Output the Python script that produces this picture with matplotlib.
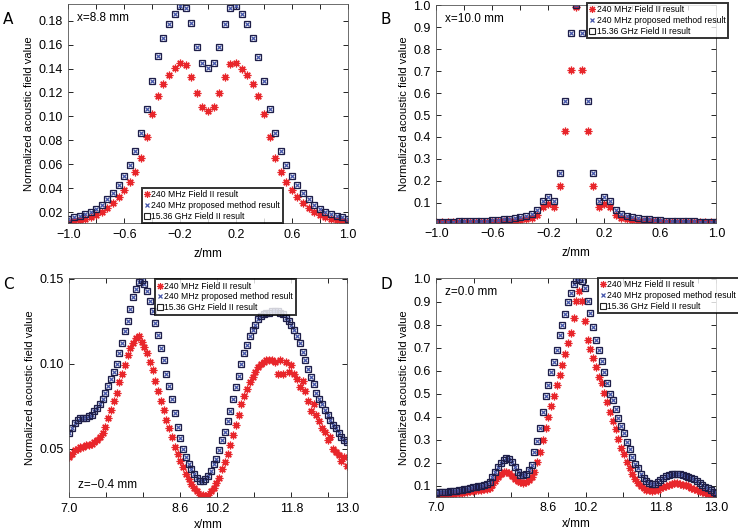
#!/usr/bin/env python3
"""
Field comparison figure: 240 MHz Field II vs proposed method vs 15.36 GHz Field II.
"""

import numpy as np
import matplotlib
matplotlib.use('Agg')
import matplotlib.pyplot as plt
from matplotlib.lines import Line2D

plt.rcParams['font.family'] = ['Liberation Sans', 'DejaVu Sans']

# ---- panel A: x = 8.8 mm, along z ----
z_a = np.linspace(-1.0, 1.0, 51)
field240_a = [0.0115, 0.0122, 0.0132, 0.0142, 0.0158, 0.0177, 0.0203, 0.0235, 0.0275, 0.0325,
              0.0384, 0.0448, 0.0535, 0.0650, 0.0828, 0.1022, 0.1173, 0.1268, 0.1343, 0.1407,
              0.1449, 0.1432, 0.1327, 0.1198, 0.1076, 0.1047,
              0.1076, 0.1198, 0.1327, 0.1435, 0.1444, 0.1400, 0.1343, 0.1268, 0.1173, 0.1022,
              0.0828, 0.0650, 0.0535, 0.0448, 0.0384, 0.0325, 0.0275, 0.0235, 0.0203, 0.0177,
              0.0158, 0.0142, 0.0132, 0.0122, 0.0115]
field1536_a = [0.0145, 0.0155, 0.0167, 0.0180, 0.0197, 0.0225, 0.0261, 0.0306, 0.0361, 0.0423,
               0.0500, 0.0593, 0.0713, 0.0863, 0.1064, 0.1300, 0.1507, 0.1655, 0.1775, 0.1860,
               0.1920, 0.1906, 0.1780, 0.1580, 0.1444, 0.1404,
               0.1444, 0.1580, 0.1775, 0.1906, 0.1920, 0.1860, 0.1770, 0.1655, 0.1500, 0.1300,
               0.1060, 0.0860, 0.0713, 0.0593, 0.0500, 0.0423, 0.0361, 0.0306, 0.0261, 0.0225,
               0.0197, 0.0180, 0.0167, 0.0155, 0.0145]
proposed_a = field1536_a

# ---- panel B: x = 10.0 mm, along z ----
z_b = np.linspace(-1.0, 1.0, 51)
field240_b = [0.010, 0.010, 0.010, 0.011, 0.011, 0.011, 0.012, 0.012, 0.013, 0.013,
              0.014, 0.015, 0.016, 0.017, 0.019, 0.021, 0.024, 0.030, 0.045, 0.080,
              0.094, 0.080, 0.176, 0.428, 0.707, 0.995,
              0.707, 0.428, 0.176, 0.080, 0.094, 0.080, 0.045, 0.030, 0.024, 0.021,
              0.019, 0.017, 0.016, 0.015, 0.014, 0.013, 0.013, 0.012, 0.012, 0.011,
              0.011, 0.011, 0.010, 0.010, 0.010]
field1536_b = [0.013, 0.013, 0.014, 0.014, 0.015, 0.015, 0.016, 0.017, 0.018, 0.019,
               0.021, 0.023, 0.025, 0.028, 0.031, 0.035, 0.040, 0.048, 0.065, 0.109,
               0.128, 0.109, 0.236, 0.564, 0.875, 1.000,
               0.875, 0.564, 0.236, 0.109, 0.128, 0.109, 0.065, 0.048, 0.040, 0.035,
               0.031, 0.028, 0.025, 0.023, 0.021, 0.019, 0.018, 0.017, 0.016, 0.015,
               0.015, 0.014, 0.014, 0.013, 0.013]
proposed_b = field1536_b

# ---- panel C: z = -0.4 mm, along x ----
x_c = np.linspace(7.0, 13.0, 101)
field240_c = [0.045, 0.047, 0.049, 0.050, 0.051, 0.051, 0.052, 0.052, 0.053, 0.054,
              0.055, 0.057, 0.059, 0.063, 0.068, 0.073, 0.078, 0.083, 0.089, 0.094,
              0.099, 0.105, 0.109, 0.112, 0.115, 0.116, 0.113, 0.110, 0.106, 0.101,
              0.096, 0.090, 0.084, 0.078, 0.073, 0.067, 0.062, 0.057, 0.051, 0.047,
              0.043, 0.039, 0.035, 0.032, 0.029, 0.027, 0.025, 0.023, 0.023, 0.022,
              0.023, 0.025, 0.027, 0.030, 0.033, 0.038, 0.042, 0.047, 0.052, 0.058,
              0.064, 0.070, 0.076, 0.081, 0.085, 0.089, 0.092, 0.095, 0.098, 0.100,
              0.101, 0.102, 0.102, 0.102, 0.101, 0.094, 0.102, 0.094, 0.101, 0.095,
              0.099, 0.094, 0.091, 0.086, 0.090, 0.084, 0.078, 0.072, 0.076, 0.070,
              0.066, 0.062, 0.060, 0.055, 0.057, 0.050, 0.048, 0.046, 0.043, 0.045,
              0.040]
field1536_c = [0.059, 0.062, 0.065, 0.067, 0.068, 0.068, 0.068, 0.069, 0.070, 0.072,
               0.074, 0.076, 0.079, 0.083, 0.087, 0.091, 0.095, 0.100, 0.106, 0.112,
               0.119, 0.125, 0.132, 0.139, 0.144, 0.148, 0.149, 0.147, 0.143, 0.137,
               0.131, 0.124, 0.117, 0.109, 0.102, 0.094, 0.087, 0.079, 0.071, 0.063,
               0.056, 0.050, 0.045, 0.041, 0.038, 0.035, 0.033, 0.031, 0.031, 0.032,
               0.034, 0.037, 0.041, 0.044, 0.049, 0.055, 0.060, 0.066, 0.072, 0.079,
               0.086, 0.093, 0.100, 0.106, 0.111, 0.116, 0.120, 0.123, 0.126, 0.128,
               0.129, 0.130, 0.130, 0.131, 0.131, 0.131, 0.130, 0.129, 0.127, 0.125,
               0.123, 0.120, 0.116, 0.112, 0.107, 0.102, 0.097, 0.092, 0.088, 0.083,
               0.079, 0.076, 0.073, 0.070, 0.067, 0.064, 0.062, 0.059, 0.057, 0.055,
               0.054]
proposed_c = field1536_c

# ---- panel D: z = 0.0 mm, along x ----
x_d = np.linspace(7.0, 13.0, 101)
field240_d = [0.059, 0.060, 0.061, 0.062, 0.063, 0.064, 0.065, 0.067, 0.068, 0.070,
              0.072, 0.073, 0.075, 0.077, 0.079, 0.081, 0.083, 0.085, 0.087, 0.092,
              0.105, 0.119, 0.136, 0.150, 0.158, 0.161, 0.155, 0.142, 0.130, 0.121,
              0.115, 0.110, 0.115, 0.124, 0.138, 0.158, 0.205, 0.245, 0.300, 0.350,
              0.400, 0.445, 0.490, 0.540, 0.580, 0.625, 0.675, 0.720, 0.765, 0.830,
              0.904, 0.948, 0.904, 0.815, 0.735, 0.695, 0.655, 0.615, 0.575, 0.545,
              0.505, 0.465, 0.420, 0.382, 0.345, 0.305, 0.265, 0.240, 0.205, 0.178,
              0.150, 0.128, 0.110, 0.098, 0.088, 0.083, 0.079, 0.077, 0.079, 0.083,
              0.088, 0.094, 0.100, 0.105, 0.108, 0.110, 0.110, 0.108, 0.105, 0.102,
              0.097, 0.092, 0.087, 0.082, 0.076, 0.071, 0.066, 0.062, 0.058, 0.054,
              0.052]
field1536_d = [0.070, 0.071, 0.072, 0.073, 0.074, 0.075, 0.076, 0.078, 0.080, 0.082,
               0.085, 0.087, 0.090, 0.093, 0.096, 0.098, 0.100, 0.103, 0.107, 0.118,
               0.138, 0.158, 0.180, 0.200, 0.213, 0.219, 0.214, 0.203, 0.180, 0.158,
               0.145, 0.146, 0.153, 0.168, 0.190, 0.245, 0.295, 0.350, 0.420, 0.490,
               0.540, 0.594, 0.640, 0.690, 0.756, 0.800, 0.848, 0.898, 0.940, 0.980,
               0.997, 1.000, 0.990, 0.960, 0.905, 0.850, 0.790, 0.735, 0.690, 0.645,
               0.595, 0.545, 0.500, 0.475, 0.435, 0.395, 0.360, 0.330, 0.290, 0.260,
               0.225, 0.195, 0.175, 0.150, 0.135, 0.122, 0.112, 0.107, 0.108, 0.115,
               0.124, 0.134, 0.141, 0.146, 0.149, 0.151, 0.151, 0.150, 0.147, 0.144,
               0.139, 0.133, 0.127, 0.120, 0.112, 0.104, 0.096, 0.088, 0.080, 0.073,
               0.067]
proposed_d = field1536_d

# tick labels
z_ticks = [-1.0, -0.8, -0.6, -0.4, -0.2, 0.0, 0.2, 0.4, 0.6, 0.8, 1.0]
z_ticklabels = ['\u22121.0', '', '\u22120.6', '', '\u22120.2', '', '0.2', '', '0.6', '', '1.0']
x_ticks = [7.0, 7.8, 8.6, 9.4, 10.2, 11.0, 11.8, 12.6, 13.0]
x_ticklabels = ['7.0', '', '', '8.6', '10.2', '', '11.8', '', '13.0']

labels = ['240 MHz Field II result', '240 MHz proposed method result', '15.36 GHz Field II result']

RED = '#e8262b'
BLUE = '#4455aa'
NAVY = '#1e1e48'


def draw_panel(ax, x, red, prop, ref):
    """Plot the three series on one axis."""
    ax.plot(x, red, linestyle='none', marker=(8, 2, 0), ms=5.5, mew=0.9, color=RED)
    ax.plot(x, prop, linestyle='none', marker='x', ms=3.2, mew=0.9, color=BLUE)
    ax.plot(x, ref, linestyle='none', marker='s', ms=4.2, mew=0.9, mfc='none', mec=NAVY)
    ax.tick_params(direction='in', top=True, right=True, length=3.5, width=0.6,
                   labelsize=9, pad=4)
    for s in ax.spines.values():
        s.set_linewidth(0.6)
        s.set_color('#555555')
    ax.set_ylabel('Normalized acoustic field value', fontsize=8, labelpad=3)


def add_legend(fig, x0, y0):
    handles = [Line2D([], [], linestyle='none', marker=(8, 2, 0), ms=5, mew=0.8, color=RED),
               Line2D([], [], linestyle='none', marker='x', ms=3.5, mew=0.9, color=BLUE),
               Line2D([], [], linestyle='none', marker='s', ms=4, mew=0.8, mfc='none', mec='#222222')]
    leg = fig.legend(handles, labels, loc='upper left', bbox_to_anchor=(x0, y0),
                     fontsize=6.2, frameon=True, fancybox=False, handlelength=0.6,
                     handletextpad=0.2, labelspacing=0.2, borderpad=0.3, borderaxespad=0)
    leg.get_frame().set_edgecolor('black')
    leg.get_frame().set_linewidth(1.4)
    return leg


fig = plt.figure(figsize=(7.38, 5.31), dpi=100)

ax_a = fig.add_axes([0.0926, 0.580, 0.3786, 0.4124])
ax_b = fig.add_axes([0.5912, 0.5806, 0.3794, 0.4100])
ax_c = fig.add_axes([0.0939, 0.0635, 0.3763, 0.4124])
ax_d = fig.add_axes([0.5912, 0.0646, 0.3794, 0.4113])

# A
draw_panel(ax_a, z_a, field240_a, proposed_a, field1536_a)
ax_a.set_xlim(-1.0, 1.0)
ax_a.set_ylim(0.0108, 0.194)
ax_a.set_xticks(z_ticks)
ax_a.set_xticklabels(z_ticklabels)
ax_a.set_yticks(np.arange(0.02, 0.181, 0.02))
ax_a.set_yticklabels(['%.2f' % v for v in np.arange(0.02, 0.181, 0.02)])
ax_a.set_xlabel('z/mm', fontsize=8.5, labelpad=5)
ax_a.text(0.03, 0.965, 'x=8.8 mm', transform=ax_a.transAxes, fontsize=8.5, va='top')

# B
draw_panel(ax_b, z_b, field240_b, proposed_b, field1536_b)
ax_b.set_xlim(-1.0, 1.0)
ax_b.set_ylim(0.009, 1.002)
ax_b.set_xticks(z_ticks)
ax_b.set_xticklabels(z_ticklabels)
ax_b.set_yticks(np.arange(0.1, 1.01, 0.1))
ax_b.set_yticklabels(['%.1f' % v for v in np.arange(0.1, 1.01, 0.1)])
ax_b.set_xlabel('z/mm', fontsize=8.5, labelpad=5)
ax_b.text(0.03, 0.965, 'x=10.0 mm', transform=ax_b.transAxes, fontsize=8.5, va='top')

# C
draw_panel(ax_c, x_c, field240_c, proposed_c, field1536_c)
ax_c.set_xlim(7.0, 13.0)
ax_c.set_ylim(0.0214, 0.1502)
ax_c.set_xticks(x_ticks)
ax_c.set_xticklabels(x_ticklabels)
ax_c.set_yticks([0.05, 0.10, 0.15])
ax_c.set_yticklabels(['0.05', '0.10', '0.15'])
ax_c.set_xlabel('x/mm', fontsize=8.5, labelpad=3)
ax_c.text(0.03, 0.03, 'z=\u22120.4 mm', transform=ax_c.transAxes, fontsize=8.5, va='bottom')

# D
draw_panel(ax_d, x_d, field240_d, proposed_d, field1536_d)
ax_d.set_xlim(7.0, 13.0)
ax_d.set_ylim(0.052, 1.003)
ax_d.set_xticks(x_ticks)
ax_d.set_xticklabels(x_ticklabels)
ax_d.set_yticks(np.arange(0.1, 1.01, 0.1))
ax_d.set_yticklabels(['%.1f' % v for v in np.arange(0.1, 1.01, 0.1)])
ax_d.set_xlabel('x/mm', fontsize=8.5, labelpad=3)
ax_d.text(0.03, 0.965, 'z=0.0 mm', transform=ax_d.transAxes, fontsize=8.5, va='top')

# legends (figure coords)
add_legend(fig, 0.192, 0.6465)
add_legend(fig, 0.7958, 0.9949)
add_legend(fig, 0.210, 0.4746)
add_legend(fig, 0.8103, 0.4770)

# panel letters
for lab, (px, py) in zip('ABCD', [(0.004, 0.978), (0.516, 0.978), (0.004, 0.478), (0.516, 0.478)]):
    fig.text(px, py, lab, fontsize=11, family='DejaVu Sans', va='top')

fig.savefig('out.png', dpi=100)
plt.close(fig)
